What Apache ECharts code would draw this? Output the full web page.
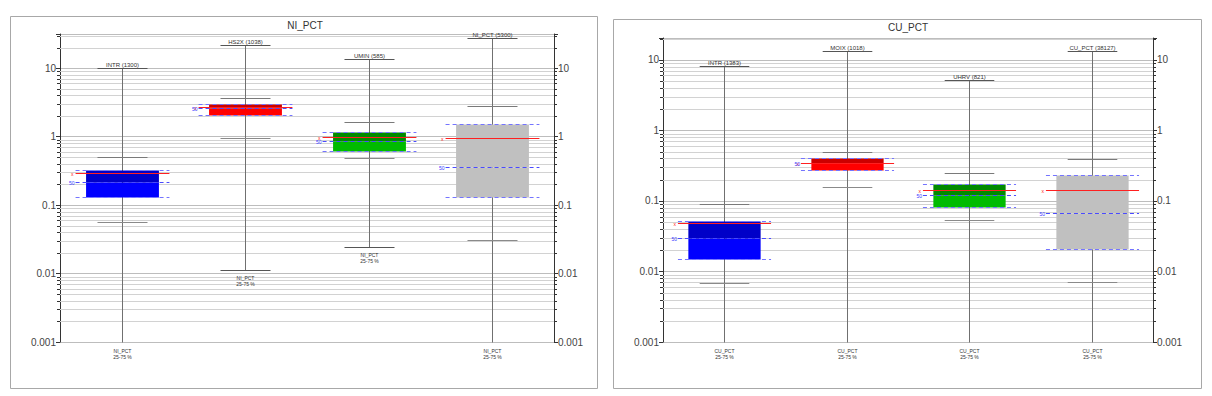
<!DOCTYPE html>
<html><head><meta charset="utf-8">
<script src="https://cdn.jsdelivr.net/npm/echarts@6/dist/echarts.min.js"></script>
<style>html,body{margin:0;padding:0;background:#fff}#c{width:1212px;height:396px}</style>
</head><body><div id="c"></div>
<script>
// ---------- NI_PCT panel ----------
const niTitle = 'NI_PCT';
const niCategories = ['INTR (1300)', 'HS2X (1038)', 'UMIN (585)', 'NI_PCT (5300)'];
const niBottomLabel = 'NI_PCT';
const niMax    = [10,     22,    13.5,  27.4];
const niP95    = [0.51,   3.7,   1.65,  2.8];
const niQ3     = [0.33,   3.0,   1.18,  1.55];
const niMean   = [0.29,   2.7,   1.0,   0.97];
const niMedian = [0.22,   2.65,  0.85,  0.365];
const niQ1     = [0.13,   2.1,   0.62,  0.133];
const niP5     = [0.057,  0.97,  0.48,  0.031];
const niMin    = [0.0005, 0.0114, 0.0248, 0.0005];

// ---------- CU_PCT panel ----------
const cuTitle = 'CU_PCT';
const cuCategories = ['INTR (1383)', 'MOIX (1018)', 'UHRV (821)', 'CU_PCT (38127)'];
const cuBottomLabel = 'CU_PCT';
const cuMax    = [8.2,    13.3,   5.1,    13.3];
const cuP95    = [0.09,   0.49,   0.245,  0.39];
const cuQ3     = [0.052,  0.41,   0.175,  0.232];
const cuMean   = [0.049,  0.35,   0.143,  0.145];
const cuMedian = [0.030,  0.34,   0.12,   0.0665];
const cuQ1     = [0.015,  0.27,   0.081,  0.0205];
const cuP5     = [0.0068, 0.16,   0.053,  0.0071];
const cuMin    = [0.0005, 0.0005, 0.0005, 0.0005];

// axis ranges / tick values
const yAxisMin = 0.001;
const niAxisMax = 31.6;
const cuAxisMax = 20.4;
const decades = [-3, -2, -1, 0, 1];
const minorMultipliers = [2, 3, 4, 5, 6, 7, 8, 9];
const boxColors = [['#0000c8', '#0000ff'], ['#cc0000', '#ff0000'], ['#008a00', '#00bb00'], ['#c0c0c0', '#c0c0c0']];

const FONT = 'Liberation Sans';

function minorTicks(maxV) {
  const out = [];
  decades.forEach(e => minorMultipliers.forEach(m => {
    const v = m * Math.pow(10, e);
    if (v < maxV) out.push([0, v]);
  }));
  return out;
}

function fmtLog(v) {
  const l = Math.log10(v);
  if (Math.abs(l - Math.round(l)) > 1e-6) return '';
  return String(Number(Math.pow(10, Math.round(l)).toPrecision(6)));
}

function buildData(cats, mn, p5, q1, med, mean, q3, p95, mx) {
  return cats.map((c, i) => [i, mn[i], p5[i], q1[i], med[i], mean[i], q3[i], p95[i], mx[i]]);
}

function boxRenderer(cats, bottomLabel) {
  return function (params, api) {
    const i = api.value(0);
    const mn = api.value(1), p5 = api.value(2), q1 = api.value(3), med = api.value(4),
          mean = api.value(5), q3 = api.value(6), p95 = api.value(7), mx = api.value(8);
    const cs = params.coordSys;
    const band = cs.width / cats.length;
    const cx = Math.round(api.coord([i, mx])[0]) + 0.5;
    const Y = v => Math.round(api.coord([i, Math.max(v, yAxisMin)])[1]) + 0.5;
    const boxW = band * 0.59, dashW = band * 0.76, capW = band * 0.405;
    const col = boxColors[i];
    const ch = [];
    const hline = (y, w, stroke, dash, lw) => ({
      type: 'line', shape: { x1: cx - w / 2, y1: y, x2: cx + w / 2, y2: y },
      style: { stroke: stroke, lineWidth: lw || 1, lineDash: dash || null }
    });
    // whisker
    ch.push({ type: 'line', shape: { x1: cx, y1: Y(mx), x2: cx, y2: Y(mn) }, style: { stroke: '#707070', lineWidth: 1 } });
    // caps
    ch.push(hline(Y(mx), capW, '#555'));
    ch.push(hline(Y(p95), capW, '#7a7a7a'));
    ch.push(hline(Y(p5), capW, '#8a8a8a'));
    const minVisible = mn >= yAxisMin;
    if (minVisible) ch.push(hline(Y(mn), capW, '#555'));
    // box: lower (q1..median) and upper (median..q3)
    const yq1 = Y(q1), ymed = Y(med), yq3 = Y(q3);
    ch.push({ type: 'rect', shape: { x: cx - boxW / 2, y: ymed, width: boxW, height: yq1 - ymed }, style: { fill: col[1] } });
    ch.push({ type: 'rect', shape: { x: cx - boxW / 2, y: yq3, width: boxW, height: ymed - yq3 }, style: { fill: col[0] } });
    // quartile dashed lines
    ch.push(hline(yq3, dashW, '#7474ff', [4, 3]));
    ch.push(hline(yq1, dashW, '#7474ff', [4, 3]));
    // median & mean
    ch.push(hline(ymed, dashW, '#4a4aff', [4, 3]));
    const ymean = Y(mean);
    ch.push(hline(ymean, dashW, '#ff2020'));
    // markers
    ch.push({ type: 'text', style: { text: 'x', x: cx - dashW / 2 - 2, y: ymean, align: 'right', verticalAlign: 'middle', fontSize: 5, fontFamily: FONT, fill: '#ff2020' } });
    ch.push({ type: 'text', style: { text: '50', x: cx - dashW / 2 - 1, y: ymed, align: 'right', verticalAlign: 'middle', fontSize: 5, fontFamily: FONT, fill: '#3a3aff' } });
    // top label
    ch.push({ type: 'text', style: { text: cats[i], x: cx, y: Y(mx) - 1, align: 'center', verticalAlign: 'bottom', fontSize: 6, fontFamily: FONT, fill: '#333' } });
    // bottom label
    const by = minVisible ? Y(mn) + 4 : Y(yAxisMin) + 5;
    ch.push({ type: 'text', style: { text: bottomLabel + '\n25-75 %', x: cx, y: by, align: 'center', verticalAlign: 'top', fontSize: 5, lineHeight: 6, fontFamily: FONT, fill: '#333' } });
    return { type: 'group', children: ch };
  };
}

function minorRenderer(params, api) {
  const cs = params.coordSys;
  const y = Math.round(api.coord([0, api.value(1)])[1]) + 0.5;
  return {
    type: 'group', children: [
      { type: 'line', shape: { x1: cs.x, y1: y, x2: cs.x + cs.width, y2: y }, style: { stroke: '#d2d2d2', lineWidth: 1 } },
      { type: 'line', shape: { x1: cs.x - 3, y1: y, x2: cs.x, y2: y }, style: { stroke: '#333', lineWidth: 1 } },
      { type: 'line', shape: { x1: cs.x + cs.width, y1: y, x2: cs.x + cs.width + 3, y2: y }, style: { stroke: '#333', lineWidth: 1 } }
    ]
  };
}

function yAxis(gridIndex, maxV, pos) {
  return {
    type: 'log', logBase: 10, gridIndex: gridIndex, position: pos, min: yAxisMin, max: maxV,
    axisLine: { show: true, lineStyle: { color: '#333', width: 1 } },
    axisTick: { show: true, length: 4, lineStyle: { color: '#333' } },
    axisLabel: { formatter: fmtLog, fontSize: 10, color: '#444', fontFamily: FONT, margin: 4 },
    splitLine: { show: pos === 'left', lineStyle: { color: '#bdbdbd', width: 1 } },
    minorTick: { show: false }
  };
}

function xAxis(gridIndex, cats) {
  return {
    type: 'category', gridIndex: gridIndex, data: cats,
    axisLine: { show: false }, axisTick: { show: false }, axisLabel: { show: false }, splitLine: { show: false }
  };
}

const chart = echarts.init(document.getElementById('c'), null, { renderer: 'svg' });
chart.setOption({
  animation: false,
  backgroundColor: '#fff',
  grid: [
    { left: 60, right: 1212 - 554, top: 34, bottom: 396 - 342 },
    { left: 663, right: 1212 - 1153, top: 38, bottom: 396 - 342 }
  ],
  xAxis: [xAxis(0, niCategories), xAxis(1, cuCategories)],
  yAxis: [yAxis(0, niAxisMax, 'left'), yAxis(0, niAxisMax, 'right'), yAxis(1, cuAxisMax, 'left'), yAxis(1, cuAxisMax, 'right')],
  graphic: [
    { type: 'rect', shape: { x: 10.5, y: 16.5, width: 587, height: 372 }, style: { fill: 'none', stroke: '#a8a8a8', lineWidth: 1 }, silent: true },
    { type: 'rect', shape: { x: 613.5, y: 19.5, width: 588, height: 369 }, style: { fill: 'none', stroke: '#a8a8a8', lineWidth: 1 }, silent: true },
    { type: 'text', x: 305, y: 25, style: { text: niTitle, align: 'center', verticalAlign: 'middle', fontSize: 10, fontFamily: FONT, fill: '#333' } },
    { type: 'text', x: 908, y: 27, style: { text: cuTitle, align: 'center', verticalAlign: 'middle', fontSize: 10, fontFamily: FONT, fill: '#333' } }
  ],
  series: [
    { type: 'custom', xAxisIndex: 0, yAxisIndex: 0, renderItem: minorRenderer, data: minorTicks(niAxisMax), encode: { x: 0, y: 1 }, silent: true, z: 1 },
    { type: 'custom', xAxisIndex: 1, yAxisIndex: 2, renderItem: minorRenderer, data: minorTicks(cuAxisMax), encode: { x: 0, y: 1 }, silent: true, z: 1 },
    { type: 'custom', xAxisIndex: 0, yAxisIndex: 0, renderItem: boxRenderer(niCategories, niBottomLabel),
      data: buildData(niCategories, niMin, niP5, niQ1, niMedian, niMean, niQ3, niP95, niMax), encode: { x: 0, y: [1, 8] }, silent: true, z: 5 },
    { type: 'custom', xAxisIndex: 1, yAxisIndex: 2, renderItem: boxRenderer(cuCategories, cuBottomLabel),
      data: buildData(cuCategories, cuMin, cuP5, cuQ1, cuMedian, cuMean, cuQ3, cuP95, cuMax), encode: { x: 0, y: [1, 8] }, silent: true, z: 5 }
  ]
});
</script></body></html>
